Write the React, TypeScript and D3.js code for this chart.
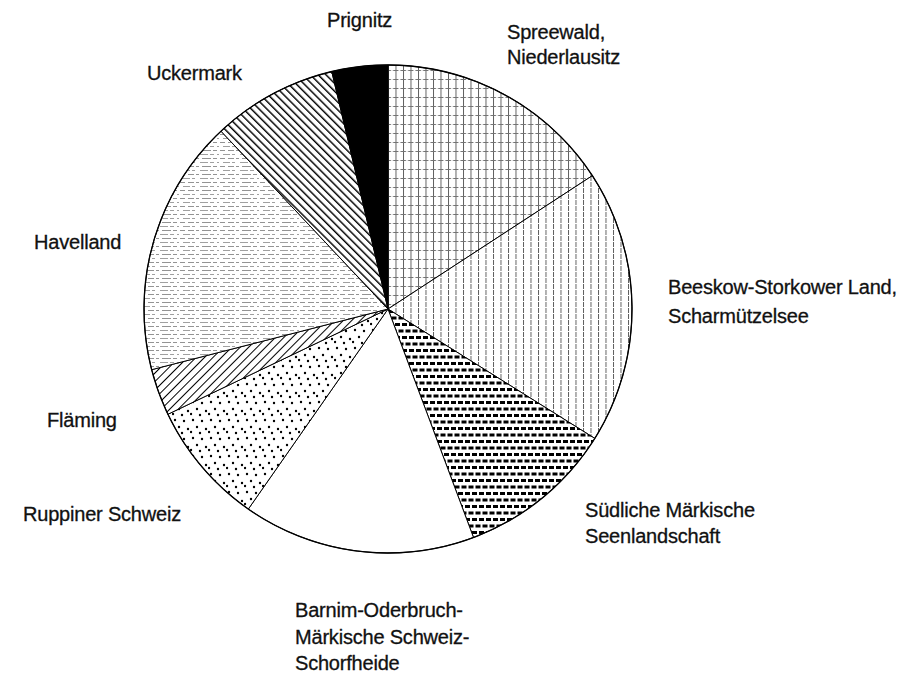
import React, { useEffect, useRef } from "react";
import * as d3 from "d3";

// Regions, clockwise from 12 o'clock
const categories = [
  "Spreewald,\nNiederlausitz",
  "Beeskow-Storkower Land,\nScharmützelsee",
  "Südliche Märkische\nSeenlandschaft",
  "Barnim-Oderbruch-\nMärkische Schweiz-\nSchorfheide",
  "Ruppiner Schweiz",
  "Fläming",
  "Havelland",
  "Uckermark",
  "Prignitz",
];

// share of the total in percent
const shares = [15.8, 18.1, 10.4, 15.4, 8.2, 3.1, 17.0, 8.3, 3.7];

// fill of each slice
const fills = [
  "url(#grid)",
  "url(#vlines)",
  "url(#brick)",
  "#ffffff",
  "url(#dots)",
  "url(#diagUp)",
  "url(#hatchH)",
  "url(#diagDown)",
  "#000000",
];

// label placement: left x, first baseline, line step
const labelLayout = [
  [507, 39, 25],
  [668, 294, 29],
  [585, 517, 26],
  [295, 617, 26.5],
  [23, 521, 0],
  [47, 427, 0],
  [34, 249, 0],
  [147, 80, 0],
  [327, 27, 0],
];

export default function App() {
  const svgRef = useRef(null);

  useEffect(() => {
    document.body.style.margin = "0";
    const w = 912;
    const h = 675;
    const cx = 388;
    const cy = 309;
    const radius = 244;

    const svg = d3.select(svgRef.current).attr("width", w).attr("height", h);
    svg.selectAll("*").remove();
    svg.append("rect").attr("width", w).attr("height", h).attr("fill", "#fff");

    const defs = svg.append("defs");

    // grid: vertical lines + dashed horizontals
    let p = defs.append("pattern").attr("id", "grid").attr("patternUnits", "userSpaceOnUse")
      .attr("width", 7.5).attr("height", 9);
    p.append("rect").attr("width", 7.5).attr("height", 9).attr("fill", "#fff");
    p.append("line").attr("x1", 0.5).attr("x2", 0.5).attr("y1", 0).attr("y2", 9)
      .attr("stroke", "#333").attr("stroke-width", 0.8).attr("stroke-dasharray", "4,1");
    p.append("line").attr("x1", 0).attr("x2", 7.5).attr("y1", 4.5).attr("y2", 4.5)
      .attr("stroke", "#555").attr("stroke-width", 0.8).attr("stroke-dasharray", "3,2");

    // vertical lines only
    p = defs.append("pattern").attr("id", "vlines").attr("patternUnits", "userSpaceOnUse")
      .attr("width", 7.5).attr("height", 6);
    p.append("rect").attr("width", 7.5).attr("height", 6).attr("fill", "#fff");
    p.append("line").attr("x1", 0.5).attr("x2", 0.5).attr("y1", 0).attr("y2", 6)
      .attr("stroke", "#333").attr("stroke-width", 0.8).attr("stroke-dasharray", "4,1");

    // black bricks
    p = defs.append("pattern").attr("id", "brick").attr("patternUnits", "userSpaceOnUse")
      .attr("width", 7).attr("height", 13);
    p.append("rect").attr("width", 7).attr("height", 13).attr("fill", "#fff");
    p.append("rect").attr("x", 0).attr("y", 1).attr("width", 5).attr("height", 3).attr("fill", "#000");
    p.append("rect").attr("x", 3.5).attr("y", 7.5).attr("width", 5).attr("height", 3).attr("fill", "#000");
    p.append("rect").attr("x", -3.5).attr("y", 7.5).attr("width", 5).attr("height", 3).attr("fill", "#000");

    // scattered dots
    p = defs.append("pattern").attr("id", "dots").attr("patternUnits", "userSpaceOnUse")
      .attr("width", 18).attr("height", 18);
    p.append("rect").attr("width", 18).attr("height", 18).attr("fill", "#fff");
    [[3, 3], [12, 4], [7, 10], [16, 12], [1, 15], [10, 16]].forEach(([x, y]) => {
      p.append("circle").attr("cx", x).attr("cy", y).attr("r", 1.2).attr("fill", "#000");
    });

    // "/" hatch
    p = defs.append("pattern").attr("id", "diagUp").attr("patternUnits", "userSpaceOnUse")
      .attr("width", 6).attr("height", 6).attr("patternTransform", "rotate(45)");
    p.append("rect").attr("width", 6).attr("height", 6).attr("fill", "#fff");
    p.append("line").attr("x1", 0.5).attr("x2", 0.5).attr("y1", 0).attr("y2", 6)
      .attr("stroke", "#000").attr("stroke-width", 1);

    // "\" hatch
    p = defs.append("pattern").attr("id", "diagDown").attr("patternUnits", "userSpaceOnUse")
      .attr("width", 5.5).attr("height", 5.5).attr("patternTransform", "rotate(-45)");
    p.append("rect").attr("width", 5.5).attr("height", 5.5).attr("fill", "#fff");
    p.append("line").attr("x1", 0.7).attr("x2", 0.7).attr("y1", 0).attr("y2", 5.5)
      .attr("stroke", "#000").attr("stroke-width", 1.5);

    // faint horizontal streaks
    p = defs.append("pattern").attr("id", "hatchH").attr("patternUnits", "userSpaceOnUse")
      .attr("width", 40).attr("height", 8);
    p.append("rect").attr("width", 40).attr("height", 8).attr("fill", "#fff");
    p.append("line").attr("x1", 0).attr("x2", 40).attr("y1", 1.5).attr("y2", 1.5)
      .attr("stroke", "#777").attr("stroke-width", 0.8).attr("stroke-dasharray", "6,2,3,3,9,2,4,3,5,3");
    p.append("line").attr("x1", 0).attr("x2", 40).attr("y1", 5.5).attr("y2", 5.5)
      .attr("stroke", "#888").attr("stroke-width", 0.8).attr("stroke-dasharray", "2,4,7,2,3,5,8,2,4,3")
      .attr("stroke-dashoffset", 11);

    const pie = d3.pie().sort(null).value(d => d);
    const arc = d3.arc().innerRadius(0).outerRadius(radius);

    const g = svg.append("g").attr("transform", `translate(${cx},${cy})`);

    g.selectAll("path.slice")
      .data(pie(shares))
      .enter()
      .append("path")
      .attr("class", "slice")
      .attr("d", arc)
      .attr("fill", (d, i) => fills[i])
      .attr("stroke", "#000")
      .attr("stroke-width", 1)
      .attr("stroke-linejoin", "round");

    g.append("circle").attr("r", radius).attr("fill", "none")
      .attr("stroke", "#000").attr("stroke-width", 1.3);

    const labels = svg.append("g")
      .style("font-family", "'Liberation Sans', Arial, Helvetica, sans-serif")
      .style("font-size", "20px")
      .style("letter-spacing", "-0.2px")
      .attr("fill", "#111")
      .attr("stroke", "#111")
      .attr("stroke-width", 0.3);

    categories.forEach((name, i) => {
      const [lx, ly, step] = labelLayout[i];
      const t = labels.append("text").attr("x", lx).attr("y", ly);
      name.split("\n").forEach((line, k) => {
        t.append("tspan").attr("x", lx).attr("y", ly + k * step).text(line);
      });
    });
  }, []);

  return <svg ref={svgRef} style={{ display: "block" }} />;
}
